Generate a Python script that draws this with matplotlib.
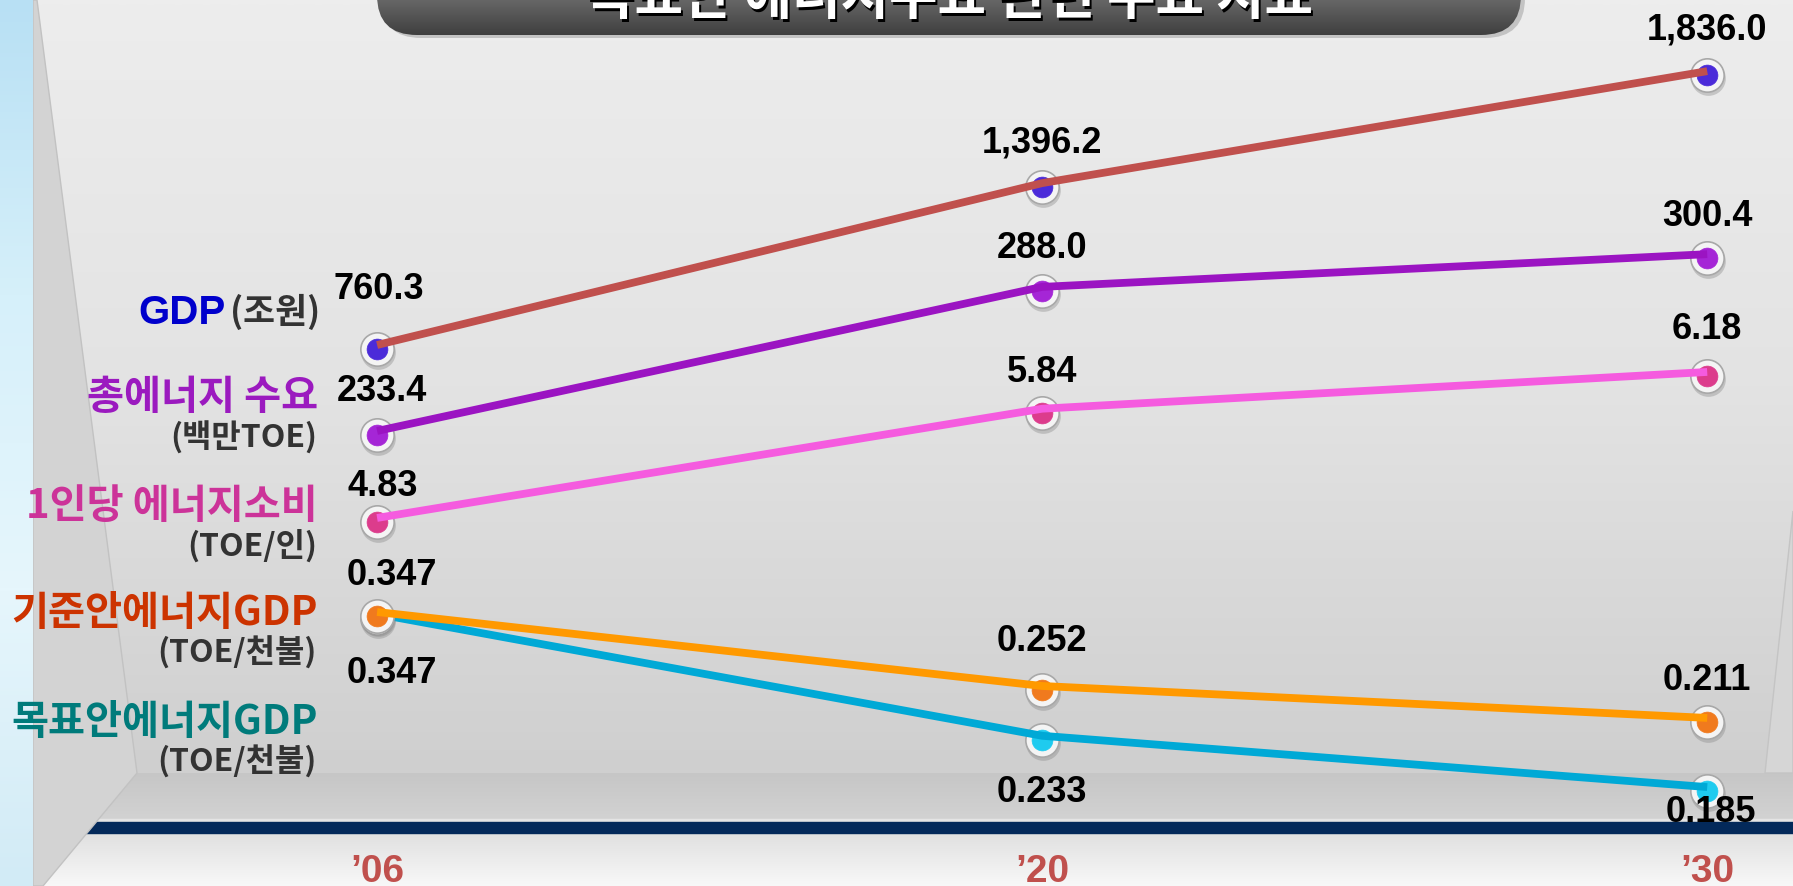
import numpy as np
import matplotlib.pyplot as plt
from matplotlib.patches import Polygon, FancyBboxPatch, Rectangle
from matplotlib.colors import LinearSegmentedColormap
from matplotlib.transforms import ScaledTranslation

W, H = 1793, 886

# data
years = ["\u201906", "\u201920", "\u201930"]
gdp = [760.3, 1396.2, 1836.0]
energy = [233.4, 288.0, 300.4]
per_capita = [4.83, 5.84, 6.18]
base_gdp = [0.347, 0.252, 0.211]
target_gdp = [0.347, 0.233, 0.185]

names = ["GDP", "총에너지 수요", "1인당 에너지소비", "기준안에너지GDP", "목표안에너지GDP"]
units = ["(조원)", "(백만TOE)", "(TOE/인)", "(TOE/천불)", "(TOE/천불)"]
title = "목표안 에너지수요 관련 주요 지표"

NUM = ["Liberation Sans", "DejaVu Sans"]
KR = ["Noto Sans CJK KR", "DejaVu Sans"]


def vgrad(ax, x0, x1, y0, y1, colors, z):
    cmap = LinearSegmentedColormap.from_list("g", colors)
    g = np.linspace(0, 1, 256).reshape(-1, 1)
    return ax.imshow(g, cmap=cmap, extent=(x0, x1, y1, y0), aspect="auto",
                     zorder=z, interpolation="bilinear")


fig = plt.figure(figsize=(W / 100, H / 100), dpi=100)

# background in pixel coordinates
bg = fig.add_axes([0, 0, 1, 1])
bg.axis("off")

vgrad(bg, 0, W, 0, 773, ["#EDEDED", "#E3E3E3", "#CFCFCF"], 0)
vgrad(bg, 0, W, 773, 822, ["#C6C6C6", "#D3D3D3"], 0)
bg.add_patch(Rectangle((0, 819), W, 3, color="#E4E4E4", zorder=1))
bg.add_patch(Rectangle((0, 822), W, 11, color="#03295A", zorder=1))
vgrad(bg, 0, W, 833, H, ["#E0E0E0", "#F8F8F8"], 0)

# side walls
bg.add_patch(Polygon([(33, 0), (37, 0), (137, 773), (43, H), (33, H)],
                     closed=True, fc="#D3D3D3", ec="#C2C2C2", lw=1, zorder=1))
bg.add_patch(Polygon([(W, 511), (1765, 773), (W, 773)],
                     closed=True, fc="#D6D6D6", ec="#C4C4C4", lw=1, zorder=1))
vgrad(bg, 0, 33, 0, H, ["#B8E0F4", "#D6F0FA", "#E6F6FC", "#D2EBF6"], 2)

# title pill (mostly cut off at the top)
shadow = FancyBboxPatch((381, -70), 1144, 108, boxstyle="round,pad=0,rounding_size=40",
                        fc="#A8A8A8", ec="none", alpha=0.6, zorder=2.5)
bg.add_patch(shadow)
pill = FancyBboxPatch((377, -70), 1144, 105, boxstyle="round,pad=0,rounding_size=40",
                      fc="none", ec="none", zorder=3)
bg.add_patch(pill)
im = vgrad(bg, 377, 1521, -70, 35, ["#A5A5A5", "#7C7C7C", "#3F3F3F"], 3)
im.set_clip_path(pill)
bg.text(952, 17, title, color="black", fontsize=38, fontweight="heavy",
        family=KR, ha="center", va="baseline", zorder=4)
bg.text(949, 14, title, color="white", fontsize=38, fontweight="heavy",
        family=KR, ha="center", va="baseline", zorder=4)

# series labels on the left
name_colors = ["#0000CC", "#9B1ABF", "#CC3399", "#CC3300", "#007B7B"]
name_y = [310, 395, 504, 611, 720]
unit_y = [310, 436, 544, 651, 760]
for i, (nm, un) in enumerate(zip(names, units)):
    if i == 0:
        bg.text(320, unit_y[i] + 13, un, color="#333333", fontsize=25, fontweight="heavy",
                family=KR, ha="right", va="baseline", zorder=4)
        bg.text(226, name_y[i] + 14, nm, color=name_colors[i], fontsize=29,
                fontweight="bold", family=NUM, ha="right", va="baseline", zorder=4)
    else:
        bg.text(318, name_y[i] + 14, nm, color=name_colors[i], fontsize=29,
                fontweight="heavy", family=KR, ha="right", va="baseline", zorder=4)
        bg.text(317, unit_y[i] + 12, un, color="#333333", fontsize=23, fontweight="heavy",
                family=KR, ha="right", va="baseline", zorder=4)

bg.set_xlim(0, W)
bg.set_ylim(H, 0)

# each series gets its own value scale
x = np.arange(len(years))
xlim = (-0.567, 2.129)
series = [
    (target_gdp, "{:.3f}", (0.0924, 0.9217), "#00A9D6", "#1FCBEF", [57, 54, 23], [15, 0, 4]),
    (base_gdp, "{:.3f}", (-0.0048, 1.1328), "#FF9900", "#F07A1E", [-39, -47, -40], [15, 0, 0]),
    (per_capita, "{:.2f}", (1.426, 9.62), "#F55BDF", "#DC3C8C", [-34, -39, -45], [6, 0, 0]),
    (energy, "{:.1f}", (61.0, 396.7), "#9B14C2", "#A526D6", [-42, -41, -40], [5, 0, 0]),
    (gdp, "{:,.1f}", (-1364.8, 2115.5), "#C0504D", "#4B2BD9", [-58, -43, -44], [2, 0, 0]),
]

for vals, fmt, lim, lcol, mcol, offs, dxs in series:
    ax = fig.add_axes([0, 0, 1, 1])
    ax.set_xlim(*xlim)
    ax.set_ylim(*lim)
    ax.axis("off")
    ax.patch.set_visible(False)
    down = ax.transData + ScaledTranslation(0, -4 / 100, fig.dpi_scale_trans)
    shade = ax.transData + ScaledTranslation(1 / 100, -7 / 100, fig.dpi_scale_trans)
    ax.plot(x, vals, "o", ms=25, mfc="#808080", mec="none", alpha=0.35, zorder=1,
            transform=shade)
    ax.plot(x, vals, "o", ms=24, mfc="#F4F4F4", mec="#A8A8A8", mew=1.2, zorder=2,
            transform=down)
    ax.plot(x, vals, "o", ms=15, mfc=mcol, mec=mcol, mew=0.5, zorder=3,
            transform=down)
    ax.plot(x, vals, "-", color=lcol, lw=5.6, solid_capstyle="butt", zorder=4)
    for xi, v, dy, dx in zip(x, vals, offs, dxs):
        ax.annotate(fmt.format(v), (xi, v), xytext=(dx * 0.72, -(dy + 12) * 0.72),
                    textcoords="offset points", ha="center", va="baseline",
                    fontsize=26, fontweight="bold", family=NUM, color="black", zorder=5)

# year labels along the floor
for i, yr in enumerate(years):
    ax.text(i, 1 - 882 / H, yr, transform=ax.get_xaxis_transform(), ha="center",
            va="baseline", fontsize=28, fontweight="bold", family=NUM, color="#C0504D")

fig.savefig("out.png", dpi=100)
